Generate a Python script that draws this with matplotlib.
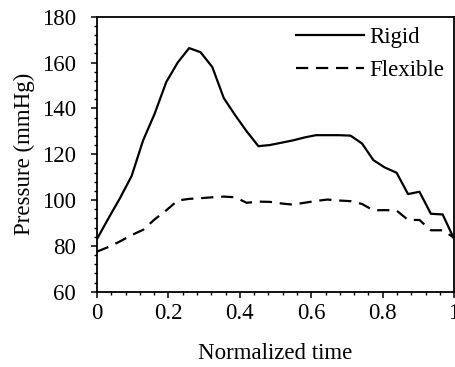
import numpy as np
import matplotlib
matplotlib.use("Agg")
import matplotlib.pyplot as plt
from matplotlib.ticker import MultipleLocator

plt.rcParams['font.family'] = ['Liberation Serif', 'DejaVu Serif']
plt.rcParams['font.size'] = 16.5

# normalized time samples (32 points)
t = [0.000, 0.032, 0.065, 0.097, 0.129, 0.161, 0.194, 0.226,
     0.258, 0.290, 0.323, 0.355, 0.387, 0.419, 0.452, 0.484,
     0.516, 0.548, 0.581, 0.613, 0.645, 0.677, 0.710, 0.742,
     0.774, 0.806, 0.839, 0.871, 0.903, 0.935, 0.968, 1.000]

rigid = [83, 92, 101, 110.5, 126, 137.5, 151.5, 160,
         166.3, 164.5, 158, 144.5, 137, 130, 123.5, 124,
         125, 126, 127.3, 128.3, 128.3, 128.3, 128.1, 124.7,
         117.4, 114.2, 111.9, 102.6, 103.6, 94, 93.7, 83]

flexible = [77.5, 79.5, 82, 84.7, 87, 91.5, 95.5, 99.8,
            100.5, 100.8, 101.2, 101.5, 101.2, 98.8, 99.3, 99.2,
            98.5, 98, 98.8, 99.6, 100.2, 99.8, 99.5, 98.3,
            95.5, 95.6, 95.4, 91.3, 91.3, 86.8, 86.8, 83.5]

fig = plt.figure(figsize=(4.55, 3.67), dpi=100)
ax = fig.add_axes([0.2132, 0.2052, 0.7848, 0.7493])

ax.plot(t, rigid, color='black', lw=1.6, label='Rigid')
fl, = ax.plot(t, flexible, color='black', lw=1.6, label='Flexible')
fl.set_dashes((5.5, 3.5))

ax.set_xlim(0, 1)
ax.set_ylim(60, 180)
ax.xaxis.set_major_locator(MultipleLocator(0.2))
ax.xaxis.set_minor_locator(MultipleLocator(0.04))
ax.yaxis.set_major_locator(MultipleLocator(20))
ax.yaxis.set_minor_locator(MultipleLocator(4))
ax.set_xticks([0, 0.2, 0.4, 0.6, 0.8, 1])
ax.set_xticklabels(['0', '0.2', '0.4', '0.6', '0.8', '1'])

ax.tick_params(which='major', direction='out', length=4, width=1.1)
ax.tick_params(which='minor', direction='out', length=2.5, width=1.0)
ax.tick_params(axis='y', which='major', pad=11)
ax.tick_params(axis='x', which='major', pad=4)
for s in ax.spines.values():
    s.set_linewidth(1.3)

ax.set_xlabel('Normalized time', labelpad=14)
ax.set_ylabel('Pressure (mmHg)', labelpad=5)

ax.legend(loc='upper right', frameon=False, handlelength=2.95,
          handletextpad=0.22, borderaxespad=0.0, borderpad=0.45,
          labelspacing=0.52)

fig.savefig('out.png', dpi=100)
